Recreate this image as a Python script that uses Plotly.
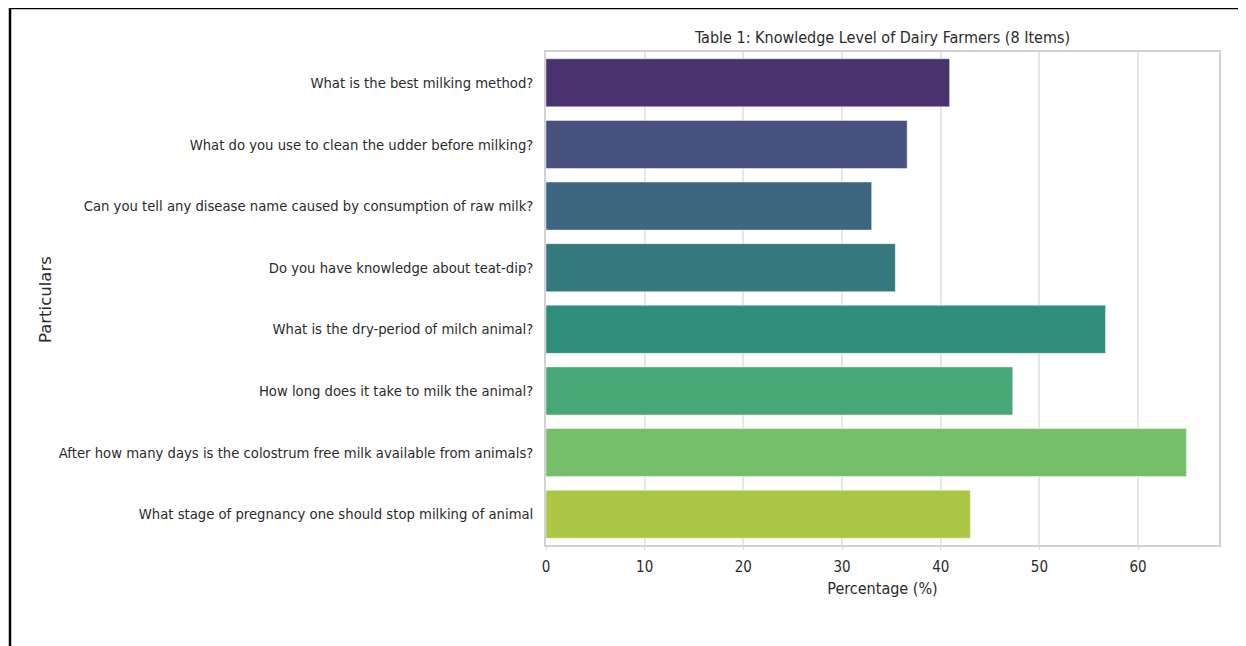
import plotly.graph_objects as go

categories = [
    "What is the best milking method?",
    "What do you use to clean the udder before milking?",
    "Can you tell any disease name caused by consumption of raw milk?",
    "Do you have knowledge about teat-dip?",
    "What is the dry-period of milch animal?",
    "How long does it take to milk the animal?",
    "After how many days is the colostrum free milk available from animals?",
    "What stage of pregnancy one should stop milking of animal",
]
percentages = [40.9, 36.6, 33.0, 35.4, 56.7, 47.3, 64.9, 43.0]
x_ticks = [0, 10, 20, 30, 40, 50, 60]

# muted viridis palette as seen in the reference
colors = ["#4a326e", "#46517e", "#3d6680", "#34797e",
          "#2e8d7b", "#47a777", "#77be6a", "#aac644"]

FONT = "DejaVu Sans Condensed, DejaVu Sans, sans-serif"
TXT = "#2b2b2b"

fig = go.Figure(go.Bar(
    x=percentages, y=categories, orientation="h",
    marker=dict(color=colors, line=dict(color="rgba(255,255,255,0.45)", width=1)),
    width=0.78,
))

OFF = 8  # page body margin
W, H = 1246 - OFF, 646 - OFF
L, T = 546 - OFF, 52 - OFF
R = W - (1219 - OFF)
B = H - (545 - OFF)
pw, ph = W - L - R, H - T - B


def px(xr):
    return (xr - OFF - L) / pw


def py(yr):
    return 1 - (yr - OFF - T) / ph


fig.update_layout(
    width=W, height=H,
    margin=dict(l=L, r=R, t=T, b=B, pad=0),
    paper_bgcolor="white", plot_bgcolor="white",
    font=dict(family=FONT, size=14, color=TXT),
    showlegend=False,
    title=dict(text="Table 1: Knowledge Level of Dairy Farmers (8 Items)",
               x=0.5, xref="paper", xanchor="center",
               y=1 - (37 - OFF) / H, yref="container", yanchor="middle",
               font=dict(size=16, family=FONT, color=TXT)),
    xaxis=dict(range=[0, 68.2], tickvals=x_ticks, ticktext=[str(v) for v in x_ticks],
               showgrid=True, gridcolor="#e6e6e6", gridwidth=1.5,
               showline=True, linecolor="#d2d2d2", linewidth=1.5, mirror=True,
               ticks="outside", ticklen=3, tickcolor="#dcdcdc", tickwidth=1,
               ticklabelstandoff=4, zeroline=False,
               tickfont=dict(size=15, color=TXT),
               title=dict(text="Percentage (%)", standoff=8,
                          font=dict(size=16, color=TXT))),
    yaxis=dict(categoryorder="array", categoryarray=categories,
               autorange="reversed", showgrid=False,
               showline=True, linecolor="#d2d2d2", linewidth=1.5, mirror=True,
               ticks="", ticklabelstandoff=8, zeroline=False,
               tickfont=dict(size=14.7, color=TXT)),
    annotations=[dict(text="Particulars", x=px(45), y=py(300), xref="paper", yref="paper",
                      xanchor="center", yanchor="middle", textangle=-90, showarrow=False,
                      font=dict(family="DejaVu Sans, sans-serif", size=16.5, color=TXT))],
    shapes=[
        dict(type="line", xref="paper", yref="paper", x0=px(10), x1=px(10), y0=py(8), y1=py(660),
             line=dict(color="black", width=2.5)),
        dict(type="line", xref="paper", yref="paper", x0=px(10), x1=px(1245), y0=py(8), y1=py(8),
             line=dict(color="black", width=2.5)),
        dict(type="line", xref="paper", yref="paper", x0=px(1244), x1=px(1244), y0=py(8), y1=py(660),
             line=dict(color="#9a9a9a", width=1)),
    ],
)

fig.write_html("out.html")
